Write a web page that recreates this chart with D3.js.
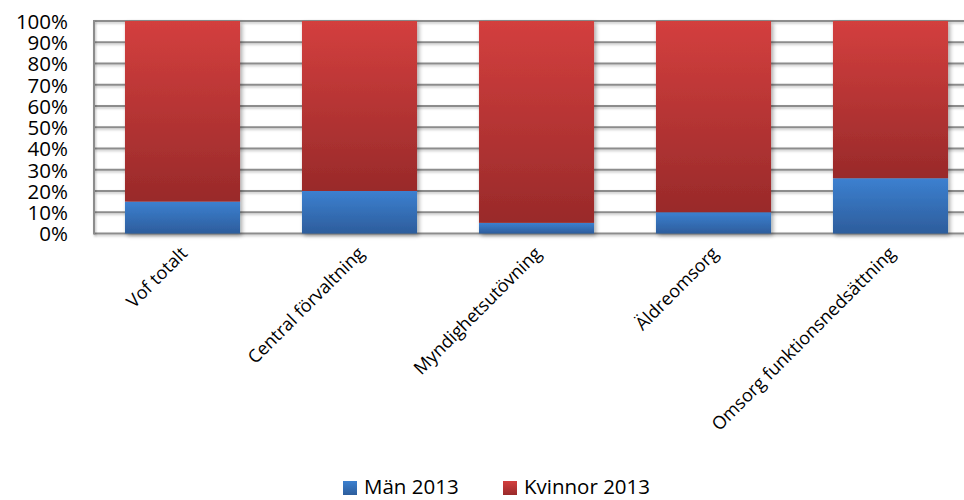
<!DOCTYPE html>
<html>
<head>
<meta charset="utf-8">
<script src="https://cdn.jsdelivr.net/npm/d3@7"></script>
<style>
  html, body { margin: 0; padding: 0; background: #fff; }
  svg { display: block; font-family: "Open Sans", sans-serif; }
</style>
</head>
<body>
<svg id="chart" width="964" height="500"></svg>
<script>
// Share of staff by sex, 2013 (percent)
const categories = ["Vof totalt", "Central förvaltning", "Myndighetsutövning", "Äldreomsorg", "Omsorg funktionsnedsättning"];
const men2013 = [15, 20, 5, 10, 26];
const women2013 = [85, 80, 95, 90, 74];
const seriesNames = ["Män 2013", "Kvinnor 2013"];
const yTicks = [0, 10, 20, 30, 40, 50, 60, 70, 80, 90, 100];

const svg = d3.select("#chart");
const margin = { left: 94, top: 21, right: 979, bottom: 233.5 };

const x = d3.scaleBand()
  .domain(categories)
  .range([margin.left, margin.right])
  .paddingInner(0.35)
  .paddingOuter(0.175);

const y = d3.scaleLinear().domain([0, 100]).range([margin.bottom, margin.top]);

const defs = svg.append("defs");
function grad(id, top, bottom) {
  const g = defs.append("linearGradient").attr("id", id)
    .attr("x1", 0).attr("y1", 0).attr("x2", 0).attr("y2", 1);
  g.append("stop").attr("offset", "0%").attr("stop-color", top);
  g.append("stop").attr("offset", "100%").attr("stop-color", bottom);
}
grad("gBlue", "#3c80d0", "#2d5d9c");
grad("gRed", "#d33f3e", "#992a2a");

// Soft drop shadow for bars
const shadow = defs.append("filter").attr("id", "shadow")
  .attr("x", "-10%").attr("y", "-10%").attr("width", "130%").attr("height", "130%");
shadow.append("feDropShadow").attr("dx", 2).attr("dy", 2).attr("stdDeviation", 2)
  .attr("flood-color", "#000").attr("flood-opacity", 0.35);

// Shadow for gridlines (user-space region, lines have no height)
const lineShadow = defs.append("filter").attr("id", "lineShadow")
  .attr("filterUnits", "userSpaceOnUse")
  .attr("x", 0).attr("y", 0).attr("width", 964).attr("height", 500);
lineShadow.append("feDropShadow").attr("dx", 1).attr("dy", 1.5).attr("stdDeviation", 1)
  .attr("flood-color", "#000").attr("flood-opacity", 0.25);

// Gridlines
svg.append("g").attr("filter", "url(#lineShadow)")
  .selectAll("line").data(yTicks).join("line")
  .attr("x1", margin.left).attr("x2", 964)
  .attr("y1", d => y(d)).attr("y2", d => y(d))
  .attr("stroke", "#8c8c8c").attr("stroke-width", 2);

// Vertical axis line
svg.append("line")
  .attr("x1", margin.left).attr("x2", margin.left)
  .attr("y1", margin.top - 1).attr("y2", margin.bottom + 1)
  .attr("stroke", "#8c8c8c").attr("stroke-width", 2)
  .attr("filter", "url(#lineShadow)");

// Stacked bars
const stackData = categories.map((c, i) => ({ cat: c, men: men2013[i], women: women2013[i] }));
const stacked = d3.stack().keys(["men", "women"])(stackData);
const fills = ["url(#gBlue)", "url(#gRed)"];

const barsG = svg.append("g").attr("filter", "url(#shadow)");
stacked.forEach((layer, k) => {
  barsG.selectAll(null).data(layer).join("rect")
    .attr("x", d => x(d.data.cat))
    .attr("width", x.bandwidth())
    .attr("y", d => y(d[1]))
    .attr("height", d => y(d[0]) - y(d[1]))
    .attr("fill", fills[k]);
});

// Y axis labels
const yAxis = d3.axisLeft(y).tickValues(yTicks).tickFormat(d => d + "%").tickSize(0).tickPadding(26);
const yg = svg.append("g").attr("transform", `translate(${margin.left},0)`).call(yAxis);
yg.select(".domain").remove();
yg.selectAll("text").attr("font-size", 20.5).attr("fill", "#000")
  .attr("font-family", "'Open Sans', sans-serif").attr("dy", "0.36em");

// X axis labels, rotated
const xg = svg.append("g");
xg.selectAll("text").data(categories).join("text")
  .attr("transform", d => `translate(${x(d) + x.bandwidth() / 2 + 6},${margin.bottom + 21}) rotate(-45)`)
  .attr("text-anchor", "end")
  .attr("font-size", 18)
  .attr("fill", "#000")
  .text(d => d);

// Legend
const legend = svg.append("g");
const legendItems = [
  { name: seriesNames[0], fill: "url(#gBlue)", x: 343 },
  { name: seriesNames[1], fill: "url(#gRed)", x: 503 }
];
legendItems.forEach(it => {
  legend.append("rect").attr("x", it.x).attr("y", 481).attr("width", 14).attr("height", 14).attr("fill", it.fill);
  legend.append("text").attr("x", it.x + 21).attr("y", 494)
    .attr("font-size", 20.5).attr("fill", "#000").text(it.name);
});
</script>
</body>
</html>
